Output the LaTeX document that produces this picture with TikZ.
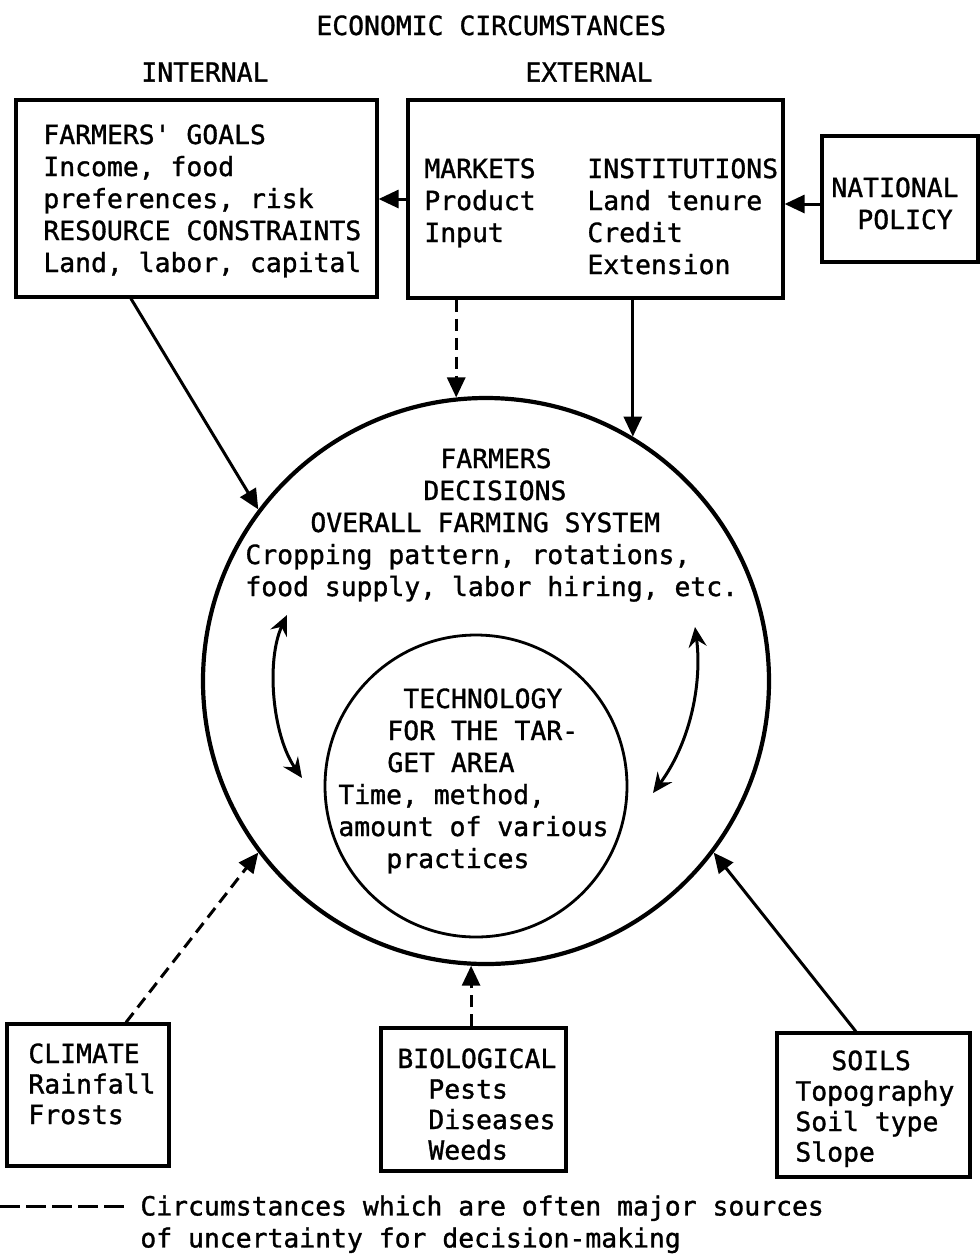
\documentclass[tikz,border=0pt]{standalone}
\usepackage{fontspec}
\setmonofont{DejaVu Sans Mono}[FakeBold=1.2]
\usetikzlibrary{arrows.meta,calc}
\begin{document}
\begin{tikzpicture}[x=0.5pt,y=-0.5pt,
  txt/.style={inner sep=0pt, anchor=north west, align=left,
    font=\ttfamily\fontsize{13.2pt}{16pt}\selectfont},
  txtlow/.style={txt, font=\ttfamily\fontsize{13.2pt}{15.25pt}\selectfont},
  box/.style={draw, line width=1.6pt, inner sep=0pt},
  arr/.style={line width=1.5pt, -{Triangle[length=10pt,width=9pt]}},
  dsh/.style={dash pattern=on 6pt off 3.5pt},
  dbl/.style={line width=1.5pt,
    {Stealth[length=10pt,width=9pt,inset=3.5pt]}-{Stealth[length=10pt,width=9pt,inset=3.5pt]}}
]
\useasboundingbox (0,0) rectangle (980,1260);

% headings
\node[txt] (title) at (316,15) {ECONOMIC CIRCUMSTANCES};
\node[txt] (intl) at (141,62) {INTERNAL};
\node[txt] (extl) at (525,62) {EXTERNAL};

% upper boxes
\node[box, minimum width=180.5pt, minimum height=98.5pt] (goals) at (196.5,198.5) {};
\node[box, minimum width=187.5pt, minimum height=99pt] (ext) at (595.5,199) {};
\node[box, minimum width=78pt, minimum height=63pt] (natl) at (900,199) {};

\node[txt] (goalstxt) at (43,124) {FARMERS' GOALS\\Income, food\\preferences, risk\\RESOURCE CONSTRAINTS\\Land, labor, capital};
\node[txt] (mkttxt) at (424,158) {MARKETS\\Product\\Input};
\node[txt] (insttxt) at (587,158) {INSTITUTIONS\\Land tenure\\Credit\\Extension};
\node[txt] (nattxt) at (831,177) {NATIONAL\\\hspace*{13pt}POLICY};

% farm system circles
\node[draw, circle, line width=2.1pt, minimum size=283pt, inner sep=0pt] (outer) at (486,681) {};
\node[draw, circle, line width=1.4pt, minimum size=151pt, inner sep=0pt] (inner) at (476,786) {};

\node[txt] (farmtxt) at (245,448) {\hspace*{97.5pt}FARMERS\\\hspace*{89pt}DECISIONS\\\hspace*{32.5pt}OVERALL FARMING SYSTEM\\Cropping pattern, rotations,\\food supply, labor hiring, etc.};
\node[txt] (techtxt) at (338,688) {\hspace*{32.5pt}TECHNOLOGY\\\hspace*{24.5pt}FOR THE TAR-\\\hspace*{24.5pt}GET AREA\\Time, method,\\amount of various\\\hspace*{24pt}practices};

% lower boxes
\node[box, minimum width=81pt, minimum height=71pt] (climate) at (88,1095) {};
\node[box, minimum width=92.5pt, minimum height=71.5pt] (bio) at (473.5,1099.5) {};
\node[box, minimum width=96.5pt, minimum height=72pt] (soils) at (873.5,1105) {};

\node[txtlow] (climtxt) at (28,1043) {CLIMATE\\Rainfall\\Frosts};
\node[txtlow] (biotxt) at (397,1048) {BIOLOGICAL\\\hspace*{15.5pt}Pests\\\hspace*{15.5pt}Diseases\\\hspace*{15.5pt}Weeds};
\node[txtlow] (soiltxt) at (795,1050) {\hspace*{18pt}SOILS\\Topography\\Soil type\\Slope};

% connectors
\draw[arr] (ext.west) -- (ext.west -| goals.east);
\draw[arr] ([yshift=-2.5pt]natl.west) -- ([yshift=-2.5pt]natl.west -| ext.east);
\draw[arr] ($(goals.south west)!0.32!(goals.south east)$) -- (outer.143);
\draw[arr,dsh] (outer.96 |- ext.south) -- (outer.96);
\draw[arr] (outer.59 |- ext.south) -- (outer.59);
\draw[arr,dsh] ($(climate.north west)!0.73!(climate.north east)$) -- (outer.217);
\draw[arr,dsh] (outer.267 |- bio.north) -- (outer.267);
\draw[arr] ($(soils.north west)!0.41!(soils.north east)$) -- (outer.323);

% interaction between the farming system and the technology
\coordinate (la) at (287,615);
\coordinate (lb) at (302,778);
\coordinate (ra) at (695,627);
\coordinate (rb) at (653,793);
\draw[dbl] (la) .. controls (266,660) and (272,735) .. (lb);
\draw[dbl] (ra) .. controls (702,680) and (692,740) .. (rb);

% legend
\coordinate (lgA) at (0,1206);
\coordinate (lgB) at (127,1206);
\draw[line width=1.5pt, dash pattern=on 10pt off 3pt] (lgA) -- (lgB);
\node[txt] (legtxt) at (140,1195) {Circumstances which are often major sources\\of uncertainty for decision-making};
\end{tikzpicture}
\end{document}
